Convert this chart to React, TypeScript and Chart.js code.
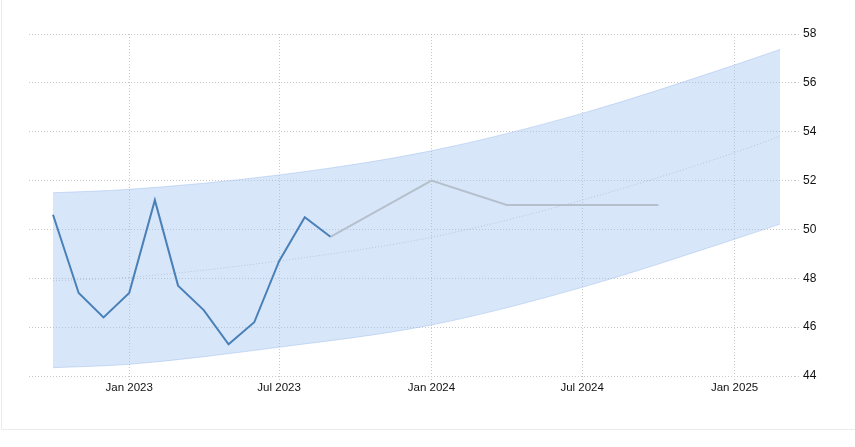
import React, { useEffect, useRef } from "react";
import { Chart, registerables } from "chart.js";

Chart.register(...registerables);

// Actual monthly readings
const actualDates = ["2022-10-01","2022-11-01","2022-12-01","2023-01-01","2023-02-01","2023-03-01","2023-04-01","2023-05-01","2023-06-01","2023-07-01","2023-08-01","2023-09-01"];
const actualValues = [50.6, 47.4, 46.4, 47.4, 51.2, 47.7, 46.7, 45.3, 46.2, 48.7, 50.5, 49.7];

// Forecast
const forecastDates = ["2023-09-01","2024-01-01","2024-04-01","2024-07-01","2024-10-01"];
const forecastValues = [49.7, 52, 51, 51, 51];

// Forecast band and trend
const bandDates = ["2022-10-01","2023-01-01","2023-07-01","2024-01-01","2024-07-01","2025-01-01","2025-02-25"];
const bandUpper = [51.5, 51.64, 52.23, 53.22, 54.75, 56.73, 57.37];
const bandLower = [44.34, 44.48, 45.18, 46.09, 47.63, 49.6, 50.22];
const trendValues = [47.9, 48.04, 48.71, 49.68, 51.2, 53.14, 53.82];

// Axis ticks
const tickDates = ["2023-01-01","2023-07-01","2024-01-01","2024-07-01","2025-01-01"];
const tickLabels = ["Jan 2023","Jul 2023","Jan 2024","Jul 2024","Jan 2025"];

const toTs = (s: string) => {
  const [y, m, d] = s.split("-").map(Number);
  return Date.UTC(y, m - 1, d || 1);
};

const pts = (dates: string[], vals: number[]) => dates.map((d, i) => ({ x: toTs(d), y: vals[i] }));

export default function App() {
  const ref = useRef<HTMLCanvasElement | null>(null);

  useEffect(() => {
    if (!ref.current) return;
    const font = { family: "'Liberation Sans', Arial, sans-serif", size: 12 };
    const chart = new Chart(ref.current, {
      type: "line",
      data: {
        datasets: [
          {
            label: "Actual",
            data: pts(actualDates, actualValues),
            borderColor: "#4a80b8",
            borderWidth: 2,
            pointRadius: 0,
            tension: 0,
            fill: false,
          },
          {
            label: "Forecast",
            data: pts(forecastDates, forecastValues),
            borderColor: "#b6c0cd",
            borderWidth: 2,
            pointRadius: 0,
            tension: 0,
            fill: false,
          },
          {
            label: "Trend",
            data: pts(bandDates, trendValues),
            borderColor: "#b9c5d6",
            borderWidth: 1,
            borderDash: [1, 2],
            pointRadius: 0,
            cubicInterpolationMode: "monotone",
            fill: false,
          },
          {
            label: "Upper",
            data: pts(bandDates, bandUpper),
            borderColor: "rgba(150,185,235,0.45)",
            borderWidth: 1,
            backgroundColor: "rgba(157,192,240,0.4)",
            pointRadius: 0,
            cubicInterpolationMode: "monotone",
            fill: "+1",
          },
          {
            label: "Lower",
            data: pts(bandDates, bandLower),
            borderColor: "rgba(150,185,235,0.45)",
            borderWidth: 1,
            pointRadius: 0,
            cubicInterpolationMode: "monotone",
            fill: false,
          },
        ],
      },
      options: {
        animation: false,
        responsive: true,
        maintainAspectRatio: false,
        layout: { padding: { left: 29, top: 34, right: 0, bottom: 0 } },
        plugins: {
          legend: { display: false },
          tooltip: { enabled: false },
        },
        scales: {
          x: {
            type: "linear",
            min: toTs("2022-09-02"),
            max: toTs("2025-03-15"),
            afterBuildTicks: (scale: any) => {
              scale.ticks = tickDates.map((d) => ({ value: toTs(d) }));
            },
            afterFit: (scale: any) => {
              scale.height = 71;
            },
            grid: {
              color: "#c8c8c8",
              lineWidth: 1,
              tickLength: 5,
              tickColor: "#c8c8c8",
              tickBorderDash: [1, 2],
            },
            border: { display: false, dash: [1, 2] },
            ticks: {
              autoSkip: false,
              maxRotation: 0,
              padding: 0,
              color: "#111",
              font: { ...font, size: 11.5 },
              callback: (_v: any, i: number) => tickLabels[i],
            },
          },
          y: {
            position: "right",
            min: 44,
            max: 58,
            afterFit: (scale: any) => {
              scale.width = 60;
            },
            grid: {
              color: "#c8c8c8",
              lineWidth: 1,
              tickLength: 5,
              tickColor: "#c8c8c8",
              tickBorderDash: [1, 2],
            },
            border: { display: false, dash: [1, 2] },
            ticks: {
              stepSize: 2,
              padding: 3,
              color: "#111",
              font,
            },
          },
        },
      },
    } as any);
    return () => chart.destroy();
  }, []);

  return (
    <div style={{ position: "absolute", left: 0, top: 0, width: 855, height: 447, background: "#fff" }}>
      <div
        style={{
          position: "absolute",
          left: 1,
          top: 0,
          width: 854,
          height: 430,
          boxSizing: "border-box",
          borderLeft: "1px solid #ececec",
          borderBottom: "1px solid #ececec",
        }}
      />
      <canvas ref={ref} style={{ position: "absolute", left: 0, top: 0, width: 855, height: 447 }} />
    </div>
  );
}
